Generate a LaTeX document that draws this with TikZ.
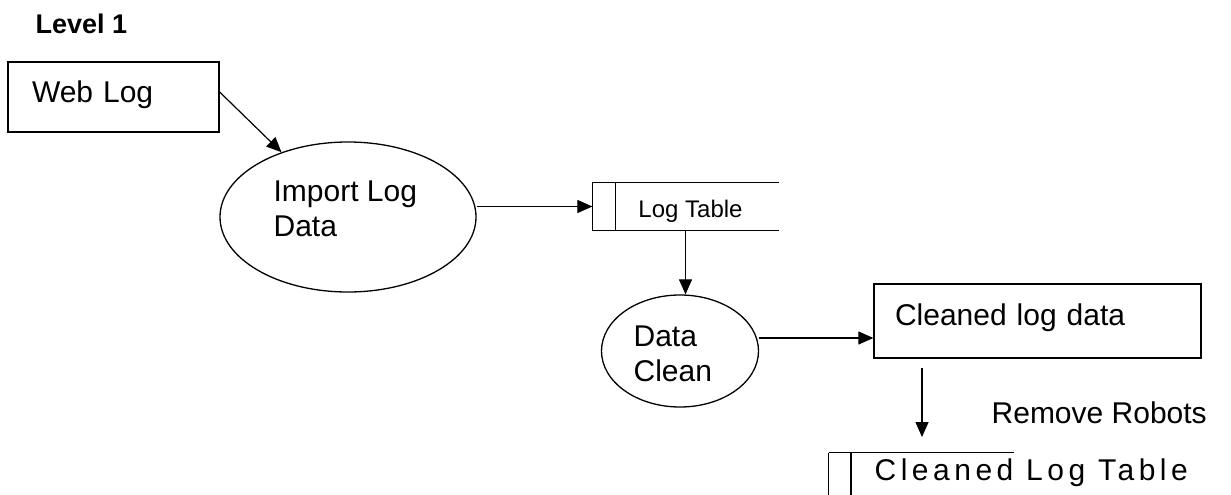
\documentclass[tikz,border=0pt]{standalone}
\usepackage{fontspec}
\setmainfont{Liberation Sans}
\usetikzlibrary{arrows.meta,shapes.geometric}
\begin{document}
\begin{tikzpicture}[x=1pt,y=-1pt,
  line width=1.3pt,
  arr/.style={-{Triangle[length=15pt,width=13pt]}, line width=1.2pt},
  box/.style={draw, rectangle, inner ysep=0pt, align=left},
  proc/.style={draw, ellipse, inner sep=0pt},
  txt/.style={inner sep=0pt, align=left, font=\fontsize{30}{35}\selectfont},
]
\useasboundingbox (0,0) rectangle (1231,495);

\node[anchor=base west, inner sep=0pt, font=\fontsize{27}{32}\selectfont\bfseries] (lvl) at (35,34) {Level 1};

% Web Log source box
\node[box, minimum width=211, minimum height=70, text width=163, inner xsep=24pt,
      text height=21pt, text depth=11pt, font=\fontsize{30}{35}\selectfont] (web) at (113.5,97) {Web Log};

% Import Log Data process
\node[proc, minimum width=256, minimum height=150] (imp) at (348,217) {};
\node[txt, anchor=north west] (impt) at (273,180.5) {Import Log\\Data};

% Log Table store
\node[inner sep=0pt, minimum width=185, minimum height=47, text height=24pt, text depth=3pt,
      font=\fontsize{24}{28}\selectfont] (lt) at (685.5,206.5) {\hspace*{10pt}Log Table};
\draw (lt.north west) -- (lt.north east)
      (lt.south west) -- (lt.south east)
      (lt.north west) -- (lt.south west)
      ([xshift=23pt]lt.north west) -- ([xshift=23pt]lt.south west);

% Data Clean process
\node[proc, minimum width=157, minimum height=112] (dc) at (680,351) {};
\node[txt, anchor=north west] (dct) at (633,325.5) {Data\\Clean};

% Cleaned log data box
\node[box, minimum width=327, minimum height=74, text width=285, inner xsep=21pt,
      text height=21pt, text depth=13pt, font=\fontsize{30}{35}\selectfont] (cld) at (1037.5,321) {Cleaned log data};

% Remove Robots label and arrow
\coordinate (ra) at (922,368);
\coordinate (rb) at (922,437);
\node[txt, anchor=base west] (rr) at (991,423) {Remove Robots};

% Cleaned Log Table store (cut by the page edge)
\coordinate (s2) at (828.5,452.5);
\draw (s2) -- ++(185.5,0)
      (s2) -- ++(0,45)
      ([xshift=22.5pt]s2) -- ++(0,45);
\node[anchor=base west, inner sep=0pt, font=\fontsize{30}{35}\selectfont\addfontfeatures{LetterSpace=15}] (clt) at (874,480) {Cleaned Log Table};

% connectors
\draw[arr] ([yshift=5pt]web.east) -- (imp);
\draw[arr] (imp.east |- lt.west) -- (lt.west);
\draw[arr] (lt.south) -- (lt.south |- dc.north);
\draw[arr] ([yshift=13pt]dc.east) -- ([yshift=13pt]dc.east -| cld.west);
\draw[arr] (ra) -- (rb);
\end{tikzpicture}
\end{document}
